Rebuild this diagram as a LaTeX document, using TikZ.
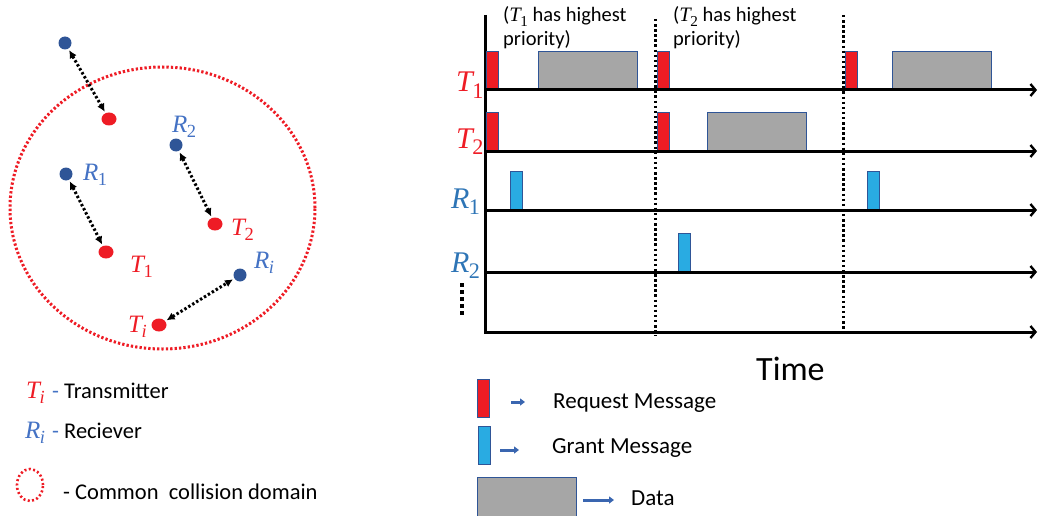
\RequirePackage{fix-cm}
\documentclass[tikz,border=0pt]{standalone}
\usepackage{graphicx}
\usepackage{fontspec}
\setmainfont{Carlito}
\newfontfamily\mfont{Liberation Serif}
\newcommand\sym[2]{{\mfont\itshape #1}\kern-0.02em\raisebox{-0.22em}{\scalebox{0.74}{\mfont #2}}}
\usetikzlibrary{arrows.meta,shapes.geometric}
\definecolor{dotblue}{HTML}{2F5597}
\definecolor{dotred}{HTML}{EE1C25}
\definecolor{labblue}{HTML}{4472C4}
\definecolor{labblueR}{HTML}{2E75B6}
\definecolor{labred}{HTML}{EE1C25}
\definecolor{reqred}{HTML}{ED1C24}
\definecolor{grantblue}{HTML}{29ABE2}
\definecolor{datagray}{HTML}{A6A6A6}
\definecolor{edgeblue}{HTML}{2F5597}
\definecolor{legarrow}{HTML}{3A66B0}
\begin{document}
\begin{tikzpicture}[x=1pt,y=-1pt,
  rdot/.style={circle, fill=dotblue, minimum size=13pt, inner sep=0pt},
  tdot/.style={ellipse, fill=dotred, minimum width=15pt, minimum height=13pt, inner sep=0pt},
  link/.style={black, line width=3pt, dash pattern=on 2.4pt off 2.2pt,
    {Latex[length=8pt,width=8pt]}-{Latex[length=8pt,width=8pt]}, shorten <=1.5pt, shorten >=1.5pt},
  collide/.style={dotred, line width=3pt, dash pattern=on 2.3pt off 2.1pt},
  mlab/.style={anchor=base west, inner sep=0pt, font=\fontsize{25}{30}\selectfont},
  biglab/.style={anchor=base west, inner sep=0pt, font=\fontsize{30}{36}\selectfont},
  txt/.style={anchor=base west, inner sep=0pt, font=\fontsize{22.5}{27}\selectfont},
  ann/.style={anchor=base west, inner sep=0pt, font=\fontsize{20.5}{25}\selectfont},
  legtxt/.style={anchor=base west, inner sep=0pt, font=\fontsize{23}{28}\selectfont},
  axis/.style={black, line width=3pt},
  taxis/.style={black, line width=3pt, -{Straight Barb[length=5pt,width=12pt,line width=2.4pt]}},
  sep/.style={black, line width=3pt, dash pattern=on 2.5pt off 2.6pt},
  ellip/.style={black, line width=3.5pt, dash pattern=on 3.5pt off 3.5pt},
  reqbox/.style={draw=edgeblue, fill=reqred, line width=1.2pt, minimum width=12pt, minimum height=38pt, inner sep=0pt, anchor=south west},
  grantbox/.style={draw=edgeblue, fill=grantblue, line width=1.2pt, minimum width=12pt, minimum height=38pt, inner sep=0pt, anchor=south west},
  databox/.style={draw=edgeblue, fill=datagray, line width=1.2pt, minimum width=99pt, minimum height=38pt, inner sep=0pt, anchor=south west},
  legarr/.style={legarrow, line width=3pt, -{Triangle[length=5pt,width=7pt]}}
]
\useasboundingbox (0,0) rectangle (1038,516);

% ---------------- left panel ----------------
\draw[collide] (162.5,208) ellipse [x radius=152.5pt, y radius=141pt];

\node[rdot] (r0) at (65,43) {};
\node[tdot] (t0) at (109,119) {};
\node[rdot] (r2) at (176,145) {};
\node[rdot] (r1) at (66,174) {};
\node[tdot] (t2) at (215,224) {};
\node[tdot] (t1) at (106,252) {};
\node[rdot] (ri) at (240,275) {};
\node[tdot] (ti) at (159,325) {};

\draw[link] (r0) -- (t0);
\draw[link] (r1) -- (t1);
\draw[link] (r2) -- (t2);
\draw[link] (ti) -- (ri);

\node[mlab, text=labblue] (lr2) at (172,132) {\sym{R}{2}};
\node[mlab, text=labblue] (lr1) at (83,180) {\sym{R}{1}};
\node[mlab, text=labred] (lt2) at (231,235) {\sym{T}{2}};
\node[mlab, text=labred] (lt1) at (130,272) {\sym{T}{1}};
\node[mlab, text=labblue] (lri) at (254,268) {\sym{R}{\itshape i}};
\node[mlab, text=labred] (lti) at (128,332) {\sym{T}{\itshape i}};

% legend left
\node[mlab, text=labred] (legti) at (26,398) {\sym{T}{\itshape i}};
\node[txt] (legtitxt) at (52,398) {\textcolor{labblue}{-} Transmitter};
\node[mlab, text=labblue] (legri) at (25,438) {\sym{R}{\itshape i}};
\node[txt] (legritxt) at (52,438) {\textcolor{labblue}{-} Reciever};
\draw[collide, line width=2.6pt, dash pattern=on 2pt off 2.4pt] (30,485) ellipse [x radius=13pt, y radius=16pt];
\node[txt] (legcol) at (63,499) {- Common\ \ collision domain};

% ---------------- right panel ----------------
\coordinate (o) at (485,332);
\coordinate (top) at (485,15);
\draw[axis] (top) -- (485,333.5);

\coordinate (a1) at (485,90);
\coordinate (a2) at (485,151);
\coordinate (a3) at (485,210);
\coordinate (a4) at (485,272);
\coordinate (e1) at (1037,90);
\coordinate (e2) at (1037,151);
\coordinate (e3) at (1037,210);
\coordinate (e4) at (1037,272);
\coordinate (e5) at (1037,332);

% boxes
\node[reqbox] (q11) at (486,90) {};
\node[databox] (d11) at (538,90) {};
\node[reqbox] (q12) at (657,90) {};
\node[reqbox] (q13) at (845,90) {};
\node[databox] (d12) at (892,90) {};
\node[reqbox] (q21) at (486,151) {};
\node[reqbox] (q22) at (657,151) {};
\node[databox] (d21) at (707,151) {};
\node[grantbox] (g11) at (510,210) {};
\node[grantbox] (g12) at (867,210) {};
\node[grantbox] (g21) at (678,272) {};

\draw[taxis] (a1) -- (e1);
\draw[taxis] (a2) -- (e2);
\draw[taxis] (a3) -- (e3);
\draw[taxis] (a4) -- (e4);
\draw[taxis] (o) -- (e5);

\coordinate (s1t) at (655,19);
\coordinate (s1b) at (655,336);
\coordinate (s2t) at (843,15);
\coordinate (s2b) at (843,336);
\draw[sep] (s1t) -- (s1b);
\draw[sep] (s2t) -- (s2b);

\coordinate (vd1) at (462,283);
\coordinate (vd2) at (462,314.5);
\draw[ellip] (vd1) -- (vd2);

\node[biglab, text=labred] (rt1) at (456,92) {\sym{T}{1}};
\node[biglab, text=labred] (rt2) at (456,148) {\sym{T}{2}};
\node[biglab, text=labblueR] (rr1) at (451,208) {\sym{R}{1}};
\node[biglab, text=labblueR] (rr2) at (451,272) {\sym{R}{2}};

\node[ann] (n1a) at (503,22) {(\sym{T}{1} has highest};
\node[ann] (n1b) at (503,46) {priority)};
\node[ann] (n2a) at (673,22) {(\sym{T}{2} has highest};
\node[ann] (n2b) at (673,46) {priority)};

\node[anchor=base west, inner sep=0pt, font=\fontsize{34}{40}\selectfont] (time) at (756,380) {Time};

% legend right
\node[reqbox] (lq) at (477,418) {};
\node[grantbox] (lg) at (478,465) {};
\node[databox, minimum height=40pt] (ld) at (477,518) {};
\coordinate (la1) at (511,402);
\coordinate (la2) at (525,402);
\coordinate (lb1) at (500,450);
\coordinate (lb2) at (519,450);
\coordinate (lc1) at (583,500);
\coordinate (lc2) at (614,500);
\draw[legarr] (la1) -- (la2);
\draw[legarr] (lb1) -- (lb2);
\draw[legarr] (lc1) -- (lc2);
\node[legtxt] (lreq) at (553,408) {Request Message};
\node[legtxt] (lgr) at (552,453) {Grant Message};
\node[legtxt] (ldat) at (631,505) {Data};
\end{tikzpicture}
\end{document}
